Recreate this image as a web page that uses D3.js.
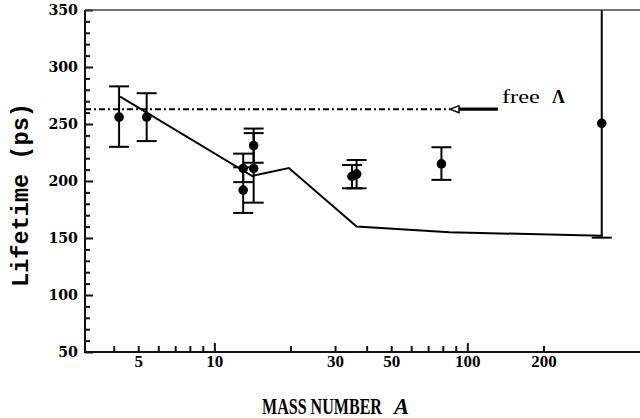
<!DOCTYPE html>
<html>
<head>
<meta charset="utf-8">
<script src="https://cdn.jsdelivr.net/npm/d3@7"></script>
<style>
  html, body { margin: 0; padding: 0; background: #fff; }
  svg { display: block; }
</style>
</head>
<body>
<svg id="chart" width="640" height="418"></svg>
<script>
// ---- data ----
const massNumber = [4.2, 5.4, 13.0, 13.0, 14.3, 14.3, 35.0, 36.5, 79, 340];
const lifetime   = [256, 256, 211, 192, 231, 211, 204, 206, 215, 250.6];
const errLow     = [230, 235, 199, 172, 216, 181, 193.6, 193.6, 201, 150.3];
const errHigh    = [283, 277, 224, 212, 246, 242, 214, 218.4, 229.6, 400];

const theoryA   = [4.24, 14.1, 19.7, 36.5, 85, 340];
const theoryTau = [274, 204.4, 211.4, 160, 155, 152];

const freeLambda = 263;          // ps
const freeLineEndA = 85.4;       // where the dash-dot line meets the arrow
const arrowTailA = 132;
const labelA = 137;

const xMinorTicks = [4, 5, 6, 7, 8, 9, 20, 30, 40, 50, 60, 70, 80, 90, 200];
const xMajorTicks = [10, 100];
const xLabelTicks = [5, 10, 30, 50, 100, 200];
const yMinorTicks = d3.range(60, 350, 10).filter(v => v % 50 !== 0);
const yMajorTicks = [50, 100, 150, 200, 250, 300, 350];

// ---- layout ----
const mLeft = 85, mTop = 10, mBottom = 352, mRight = 640;

const x = d3.scaleLog().domain([3.08, 481.6]).range([mLeft, mRight]);
const y = d3.scaleLinear().domain([50, 350]).range([mBottom, mTop]);

const svg = d3.select("#chart");

svg.append("defs").append("clipPath").attr("id", "plotclip")
  .append("rect").attr("x", mLeft).attr("y", mTop)
  .attr("width", mRight - mLeft + 10).attr("height", mBottom - mTop);

const plot = svg.append("g").attr("clip-path", "url(#plotclip)");

// free lambda dash-dot line
plot.append("line")
  .attr("x1", mLeft).attr("x2", x(freeLineEndA))
  .attr("y1", y(freeLambda)).attr("y2", y(freeLambda))
  .attr("stroke", "#000").attr("stroke-width", 2)
  .attr("stroke-dasharray", "6,3,2,3");

// arrow
const ay = y(freeLambda);
const tipX = x(freeLineEndA);
plot.append("line")
  .attr("x1", tipX + 8).attr("x2", x(arrowTailA))
  .attr("y1", ay).attr("y2", ay)
  .attr("stroke", "#000").attr("stroke-width", 3.2);
plot.append("path")
  .attr("d", `M${tipX},${ay} L${tipX + 9},${ay - 3.5} L${tipX + 9},${ay + 3.5} Z`)
  .attr("fill", "#fff").attr("stroke", "#000").attr("stroke-width", 1.4);

// theory curve
const line = d3.line().x((d, i) => x(theoryA[i])).y((d, i) => y(theoryTau[i]));
plot.append("path")
  .attr("d", line(theoryA))
  .attr("fill", "none").attr("stroke", "#000").attr("stroke-width", 2);

// error bars
const capHalf = 10;
const eb = plot.append("g").attr("stroke", "#000").attr("stroke-width", 2);
massNumber.forEach((a, i) => {
  const cx = x(a);
  eb.append("line").attr("x1", cx).attr("x2", cx)
    .attr("y1", y(errLow[i])).attr("y2", y(errHigh[i]));
  eb.append("line").attr("x1", cx - capHalf).attr("x2", cx + capHalf)
    .attr("y1", y(errLow[i])).attr("y2", y(errLow[i]));
  eb.append("line").attr("x1", cx - capHalf).attr("x2", cx + capHalf)
    .attr("y1", y(errHigh[i])).attr("y2", y(errHigh[i]));
});

// points
plot.append("g").selectAll("circle")
  .data(massNumber)
  .join("circle")
  .attr("cx", d => x(d))
  .attr("cy", (d, i) => y(lifetime[i]))
  .attr("r", 4.8)
  .attr("fill", "#000");

// ---- axes ----
const tickFont = "'Liberation Serif', 'Times New Roman', serif";

const xMinor = svg.append("g").attr("transform", `translate(0,${mBottom})`)
  .call(d3.axisBottom(x).tickValues(xMinorTicks).tickSize(-6).tickFormat(""));
const xMajor = svg.append("g").attr("transform", `translate(0,${mBottom})`)
  .call(d3.axisBottom(x).tickValues(xMajorTicks).tickSize(-9).tickFormat(""));
const xLab = svg.append("g").attr("transform", `translate(0,${mBottom})`)
  .call(d3.axisBottom(x).tickValues(xLabelTicks).tickSize(0).tickPadding(3)
    .tickFormat(d3.format("d")));
xLab.selectAll("line").remove();

const yMinor = svg.append("g").attr("transform", `translate(${mLeft},0)`)
  .call(d3.axisLeft(y).tickValues(yMinorTicks).tickSize(-5).tickFormat(""));
const yMajor = svg.append("g").attr("transform", `translate(${mLeft},0)`)
  .call(d3.axisLeft(y).tickValues(yMajorTicks).tickSize(-8).tickPadding(7)
    .tickFormat(d3.format("d")));

[xMinor, xMajor, xLab, yMinor, yMajor].forEach(g => {
  g.select(".domain").remove();
  g.selectAll(".tick line").attr("stroke", "#111").attr("stroke-width", 2);
  g.selectAll("text").attr("fill", "#000").attr("font-weight", "bold");
});
xLab.selectAll("text").attr("font-family", tickFont).attr("font-size", 17);
yMajor.selectAll("text").attr("font-family", "'DejaVu Serif', serif").attr("font-size", 14.2);

// frame lines
svg.append("line").attr("x1", mLeft).attr("x2", mRight).attr("y1", mBottom).attr("y2", mBottom)
  .attr("stroke", "#111").attr("stroke-width", 2);
svg.append("line").attr("x1", mLeft).attr("x2", mLeft).attr("y1", mTop).attr("y2", mBottom + 1)
  .attr("stroke", "#111").attr("stroke-width", 2);
svg.append("line").attr("x1", mLeft).attr("x2", mRight).attr("y1", mTop).attr("y2", mTop)
  .attr("stroke", "#444").attr("stroke-width", 1.6);

// helper: squeeze a text horizontally to a target width via a transform
function fitText(sel, tx, ty, width, rotate) {
  const w = sel.node().getComputedTextLength();
  const s = width / w;
  sel.attr("transform", `translate(${tx},${ty})${rotate ? " rotate(-90)" : ""} scale(${s},1)`);
}

// ---- titles ----
const yTitle = svg.append("text")
  .attr("text-anchor", "middle")
  .attr("font-family", "'Liberation Mono', 'DejaVu Sans Mono', monospace")
  .attr("font-weight", "bold").attr("font-size", 24)
  .text("Lifetime (ps)");
fitText(yTitle, 28, 195, 184, true);

const xTitle = svg.append("text")
  .attr("font-family", tickFont).attr("font-size", 22.6).attr("font-weight", "bold")
  .text("MASS NUMBER");
fitText(xTitle, 262, 414, 120, false);

svg.append("text")
  .attr("x", 394).attr("y", 414)
  .attr("font-family", tickFont).attr("font-size", 22.6)
  .attr("font-style", "italic").attr("font-weight", "bold")
  .text("A");

// free Λ label
const freeT = svg.append("text")
  .attr("font-family", tickFont).attr("font-size", 18)
  .text("free");
fitText(freeT, x(labelA), 103.3, 38, false);
svg.append("text")
  .attr("x", 552).attr("y", 103.3)
  .attr("font-family", tickFont).attr("font-size", 18).attr("font-weight", "bold")
  .text("Λ");
</script>
</body>
</html>
